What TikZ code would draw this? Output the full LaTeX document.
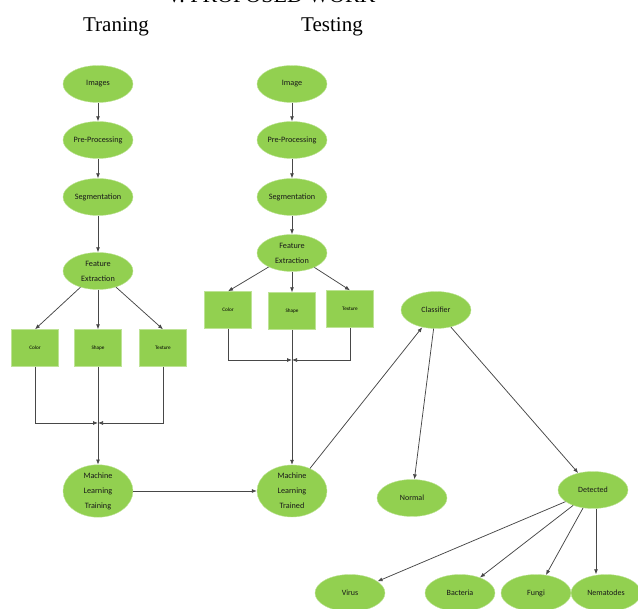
\documentclass[tikz,border=0pt]{standalone}
\usepackage{fontspec}
\setmainfont{Liberation Serif}
\newfontfamily\calfont{Carlito}
\usetikzlibrary{shapes.geometric,arrows.meta}
\definecolor{leaf}{HTML}{92D050}
\definecolor{linec}{HTML}{474747}
\tikzset{
  ell/.style={ellipse,fill=leaf,draw=leaf!60,line width=0.4pt,minimum width=70pt,minimum height=37pt,inner sep=0pt,align=center,text=black!90,font=\calfont\fontsize{8.2}{15}\selectfont},
  bigell/.style={ell,minimum height=52pt,font=\calfont\fontsize{8.2}{15}\selectfont},
  lowell/.style={ell,font=\calfont\fontsize{8}{10}\selectfont},
  fbox/.style={rectangle,fill=leaf,draw=leaf!60,line width=0.4pt,minimum width=47pt,minimum height=37pt,inner sep=0pt,font=\calfont\fontsize{5.2}{6}\selectfont},
  arr/.style={draw=linec,line width=0.75pt,-{Latex[length=5pt,width=4pt]}},
  ttl/.style={font=\fontsize{21}{24}\selectfont,anchor=base,inner sep=0pt}
}
\begin{document}
\begin{tikzpicture}[x=1pt,y=-1pt]
\useasboundingbox (0,0) rectangle (638,609);
\clip (0,0) rectangle (638,609);
\node[ttl,font=\fontsize{22}{24}\selectfont] (head) at (271,2.5) {V. PROPOSED WORK};
\node[ttl] (ttr) at (116,32) {Traning};
\node[ttl] (tte) at (332,32) {Testing};
% training
\node[ell] (img1) at (98,84) {Images};
\node[ell] (pre1) at (98,140) {Pre-Processing};
\node[ell] (seg1) at (98,197) {Segmentation};
\node[ell] (fe1) at (98,271) {Feature\\Extraction};
\node[fbox] (col1) at (35,348) {Color};
\node[fbox] (sha1) at (98,348) {Shape};
\node[fbox] (tex1) at (163,348) {Texture};
\coordinate (j1) at (98,423);
\node[bigell] (ml1) at (98,491) {Machine\\Learning\\Training};
% testing
\node[ell] (img2) at (292,84) {Image};
\node[ell] (pre2) at (292,140) {Pre-Processing};
\node[ell] (seg2) at (292,197) {Segmentation};
\node[ell] (fe2) at (292,253) {Feature\\Extraction};
\node[fbox] (col2) at (228,310) {Color};
\node[fbox] (sha2) at (292,311) {Shape};
\node[fbox] (tex2) at (350,309) {Texture};
\coordinate (j2) at (292,360);
\node[bigell] (ml2) at (292,491) {Machine\\Learning\\Trained};
% classifier
\node[lowell] (cls) at (436,310) {Classifier};
\node[lowell] (nor) at (412,498) {Normal};
\node[lowell] (det) at (593,490) {Detected};
\node[lowell] (vir) at (350,593) {Virus};
\node[lowell] (bac) at (460,593) {Bacteria};
\node[lowell] (fun) at (536,593) {Fungi};
\node[lowell] (nem) at (606,593) {Nematodes};
% edges training
\draw[arr] (img1) -- (pre1);
\draw[arr] (pre1) -- (seg1);
\draw[arr] (seg1) -- (fe1);
\draw[arr] (fe1) -- (col1.north);
\draw[arr] (fe1) -- (sha1);
\draw[arr] (fe1) -- (tex1.north);
\draw[arr] (col1) |- (j1);
\draw[arr] (tex1) |- (j1);
\draw[arr] (sha1) -- (ml1);
% edges testing
\draw[arr] (img2) -- (pre2);
\draw[arr] (pre2) -- (seg2);
\draw[arr] (seg2) -- (fe2);
\draw[arr] (fe2) -- (col2.north);
\draw[arr] (fe2) -- (sha2);
\draw[arr] (fe2) -- (tex2.north);
\draw[arr] (col2) |- (j2);
\draw[arr] (tex2) |- (j2);
\draw[arr] (sha2) -- (ml2);
\draw[arr] (ml1) -- (ml2);
% classification
\draw[arr] (ml2) -- (cls);
\draw[arr] (cls) -- (nor);
\draw[arr] (cls) -- (det);
\draw[arr] (det) -- (vir);
\draw[arr] (det) -- (bac);
\draw[arr] (det) -- (fun);
\draw[arr] ([xshift=3pt]det.south) -- ([xshift=3pt]det.south |- nem.north);
\end{tikzpicture}
\end{document}
